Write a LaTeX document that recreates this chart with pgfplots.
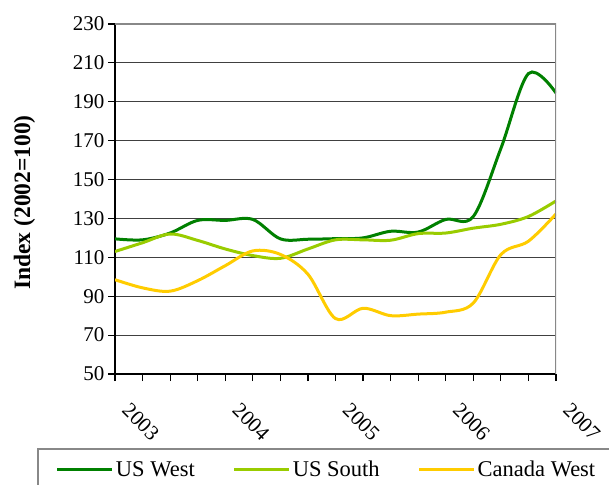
\documentclass[border=0pt]{standalone}
\usepackage{fontspec}
\setmainfont{Liberation Serif}
\usepackage{pgfplots}
\pgfplotsset{compat=1.18}
\definecolor{uswest}{RGB}{0,128,0}
\definecolor{ussouth}{RGB}{153,204,0}
\definecolor{canwest}{RGB}{255,204,0}
\definecolor{bordergray}{RGB}{136,136,136}
\begin{document}
\begin{tikzpicture}[x=1pt,y=1pt]
\path[use as bounding box] (0,0) rectangle (609,484);
\clip (0,0) rectangle (609,484);
\begin{axis}[
  at={(115pt,110pt)}, anchor=south west,
  scale only axis, width=441pt, height=350pt,
  xmin=0, xmax=16, ymin=50, ymax=230,
  axis lines=left, axis line style={-, black, line width=1.5pt},
  xtick={0,4,8,12,16},
  xticklabels={2003,2004,2005,2006,2007},
  minor x tick num=3,
  ytick={50,70,...,230},
  tick align=outside, major tick length=7pt, minor tick length=7pt,
  tick style={black, line width=1.2pt},
  ymajorgrids, grid style={black!75, line width=1pt},
  tick label style={font=\fontsize{21}{25}\selectfont},
  /pgf/number format/assume math mode=true,
  x tick label style={xshift=16pt, yshift=-16pt, rotate=-45, anchor=north west},
  ylabel={Index (2002=100)},
  ylabel style={font=\bfseries\fontsize{23.5}{28}\selectfont, at={(axis description cs:-0.205,0.49)}, anchor=center},
  legend columns=3,
  legend style={at={(axis description cs:-0.1769,-0.2114)}, anchor=north west,
    draw=bordergray, line width=2pt, font=\fontsize{22.5}{26}\selectfont,
    inner xsep=18pt, inner ysep=10pt, cells={anchor=west}, nodes={inner sep=2pt},
    /tikz/every even column/.append style={column sep=36pt}},
  legend image code/.code={\draw[#1, line width=3pt] (0pt,0pt) -- (55pt,0pt);},
  every axis plot/.append style={line width=3pt, smooth, tension=0.55},
]
\addplot[uswest] coordinates {
(0,119.5) (1,119) (2,122.5) (3,129) (4,129) (5,129.5) (6,119.5) (7,119.3) (8,119.6) (9,120) (10,123.4) (11,123) (12,129.5) (13,131) (14,166) (15,204.5) (16,194.5)};
\addlegendentry{US West}
\addplot[ussouth] coordinates {
(0,113) (1,117.5) (2,122) (3,118.7) (4,114.3) (5,110.9) (6,109.5) (7,114.3) (8,119) (9,119) (10,118.8) (11,122.2) (12,122.5) (13,125) (14,127) (15,131) (16,139)};
\addlegendentry{US South}
\addplot[canwest] coordinates {
(0,98.5) (1,94.3) (2,92.6) (3,98) (4,105.7) (5,113.3) (6,111.5) (7,101.3) (8,78.5) (9,83.8) (10,80) (11,80.8) (12,81.8) (13,86.5) (14,111.4) (15,118.3) (16,132.3)};
\addlegendentry{Canada West}
\draw[bordergray, line width=2.5pt] (rel axis cs:0,1) -- (rel axis cs:1,1) -- (rel axis cs:1,0);
\end{axis}
\end{tikzpicture}
\end{document}
